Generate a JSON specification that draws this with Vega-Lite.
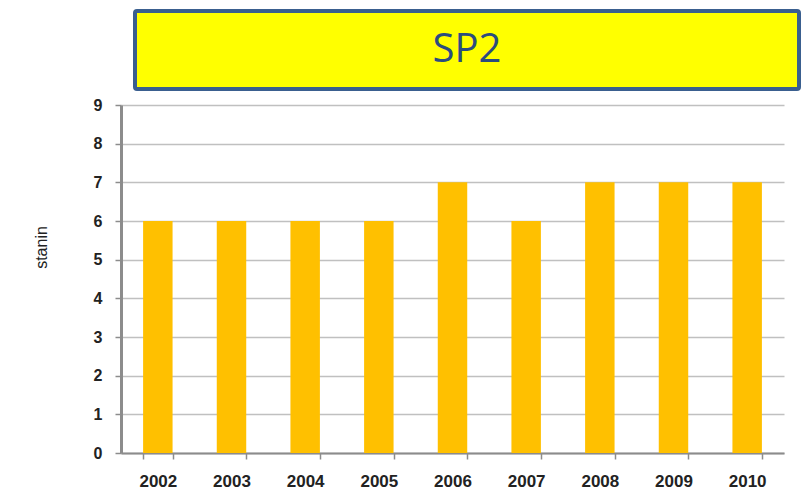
{
  "$schema": "https://vega.github.io/schema/vega-lite/v6.json",
  "autosize": {"type": "pad"},
  "padding": {"left": 33, "top": 9, "right": 2, "bottom": 2},
  "background": "#ffffff",
  "spacing": 6,
  "config": {"view": {"stroke": null}, "font": "Liberation Sans"},
  "vconcat": [
    {
      "spacing": 10,
      "hconcat": [
        {
          "width": 2,
          "height": 78,
          "data": {"values": []},
          "mark": "text",
          "encoding": {}
        },
        {
          "width": 664,
          "height": 78,
          "view": {"fill": "#FFFF00", "stroke": "#3A5F8F", "strokeWidth": 4, "cornerRadius": 2},
          "data": {"values": [{"label": "SP2"}]},
          "mark": {"type": "text", "fontSize": 40, "font": "Open Sans", "color": "#2B4C7E", "baseline": "middle", "align": "center"},
          "encoding": {"text": {"field": "label", "type": "nominal"}}
        }
      ]
    },
    {
      "width": 663,
      "height": 348,
      "data": {
        "values": [
          {"year": "2002", "stanin": 6},
          {"year": "2003", "stanin": 6},
          {"year": "2004", "stanin": 6},
          {"year": "2005", "stanin": 6},
          {"year": "2006", "stanin": 7},
          {"year": "2007", "stanin": 6},
          {"year": "2008", "stanin": 7},
          {"year": "2009", "stanin": 7},
          {"year": "2010", "stanin": 7}
        ]
      },
      "mark": {"type": "bar", "color": "#FFC000"},
      "encoding": {
        "x": {
          "field": "year",
          "type": "ordinal",
          "scale": {"paddingInner": 0.6, "paddingOuter": 0.3},
          "axis": {
            "title": null,
            "labelAngle": 0,
            "labelFontSize": 17,
            "labelFontWeight": "bold",
            "labelColor": "#222222",
            "labelPadding": 14,
            "domainColor": "#8C8C8C",
            "domainWidth": 2,
            "tickColor": "#8C8C8C",
            "tickWidth": 1.5,
            "tickSize": 6,
            "tickBand": "extent"
          }
        },
        "y": {
          "field": "stanin",
          "type": "quantitative",
          "scale": {"domain": [0, 9], "nice": false},
          "axis": {
            "title": "stanin",
            "titleFontSize": 16,
            "titleFontWeight": "normal",
            "titleColor": "#222222",
            "titlePadding": 44,
            "titleY": 142,
            "values": [0, 1, 2, 3, 4, 5, 6, 7, 8, 9],
            "labelFontSize": 16,
            "labelFontWeight": "bold",
            "labelColor": "#222222",
            "labelPadding": 13,
            "grid": true,
            "gridColor": "#C0C0C0",
            "gridWidth": 1.5,
            "domainColor": "#8C8C8C",
            "domainWidth": 3,
            "tickColor": "#8C8C8C",
            "tickWidth": 1.5,
            "tickSize": 6
          }
        }
      }
    }
  ]
}
